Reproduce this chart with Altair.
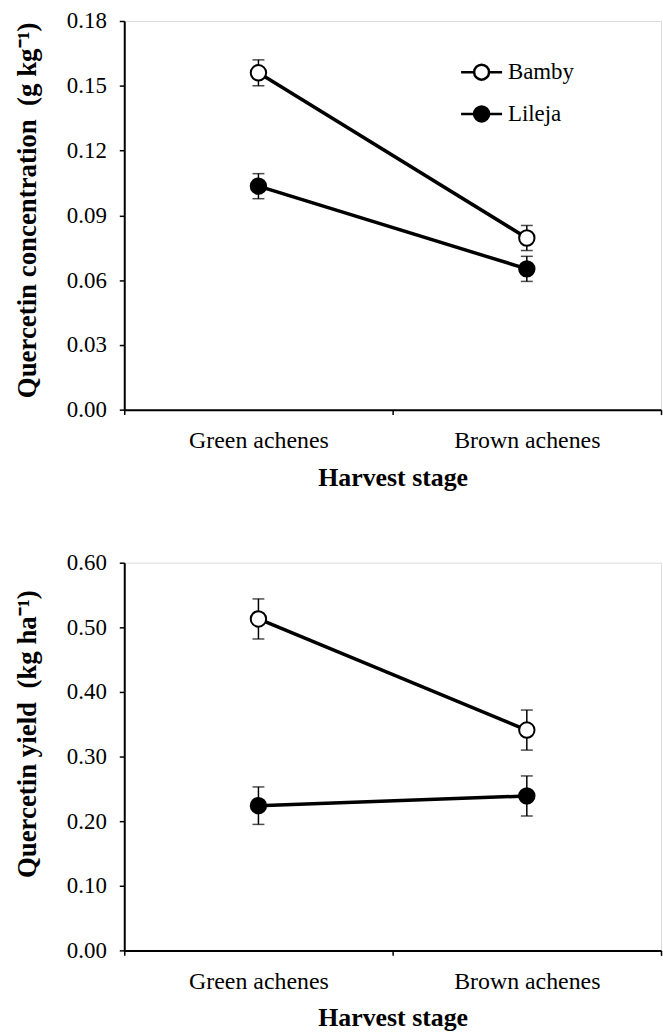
import altair as alt
import pandas as pd

# ---- data ----
stages = ["Green achenes", "Brown achenes"]
cultivars = ["Bamby", "Lileja"]

conc_bamby = [0.156, 0.0795]
conc_lileja = [0.1035, 0.0652]
conc_err_bamby = [0.006, 0.0058]
conc_err_lileja = [0.0058, 0.0058]

yield_bamby = [0.513, 0.341]
yield_lileja = [0.224, 0.239]
yield_err_bamby = [0.031, 0.031]
yield_err_lileja = [0.029, 0.031]

conc_ticks = [0.0, 0.03, 0.06, 0.09, 0.12, 0.15, 0.18]
yield_ticks = [0.0, 0.1, 0.2, 0.3, 0.4, 0.5, 0.6]

FONT = "Liberation Serif"
LEGEND_PATH = "M-2.75,0L-1,0M1,0L2.75,0M1,0A1,1,0,1,1,-1,0A1,1,0,1,1,1,0Z"


def make_df(b, l, eb, el):
    rows = []
    for cv, vals, errs in (("Bamby", b, eb), ("Lileja", l, el)):
        for st, v, e in zip(stages, vals, errs):
            rows.append({"stage": st, "cultivar": cv, "value": v,
                         "lo": v - e, "hi": v + e})
    return pd.DataFrame(rows)


def panel(df, ticks, ytitle, height, legend_y, title_y):
    x_enc = alt.X(
        "stage:N", sort=stages,
        scale=alt.Scale(paddingInner=0, paddingOuter=0),
        axis=alt.Axis(title="Harvest stage", labelAngle=0, tickBand="extent",
                      domainColor="black", domainWidth=2, tickColor="black",
                      tickWidth=1.5, tickSize=5, labelFont=FONT, labelFontSize=24,
                      labelColor="black", labelPadding=14, titleFont=FONT,
                      titleFontSize=26, titleFontWeight="bold", titleColor="black",
                      titlePadding=12, grid=False),
    )
    yscale = alt.Scale(domain=[ticks[0], ticks[-1]], nice=False)
    yaxis = alt.Axis(title=ytitle, values=ticks, format=".2f", grid=False,
                     domainColor="black", domainWidth=2, tickColor="black",
                     tickWidth=1.5, tickSize=5, labelFont=FONT, labelFontSize=23,
                     labelColor="black", labelPadding=13, titleFont=FONT,
                     titleFontSize=27, titleFontWeight="bold", titleColor="black",
                     titleX=-97, titleY=title_y, titleBaseline="middle",
                     titleAngle=270)
    y_val = alt.Y("value:Q", scale=yscale, axis=yaxis)

    base = alt.Chart(df)
    lines = base.mark_line(color="black", strokeWidth=3.5).encode(
        x=x_enc, y=y_val, detail="cultivar:N")
    stems = base.mark_rule(color="black", strokeWidth=1.5).encode(
        x=x_enc, y=alt.Y("lo:Q", scale=yscale, axis=yaxis), y2="hi:Q")
    caps_lo = base.mark_tick(color="black", size=12, thickness=1.5).encode(
        x=x_enc, y=alt.Y("lo:Q", scale=yscale, axis=yaxis))
    caps_hi = base.mark_tick(color="black", size=12, thickness=1.5).encode(
        x=x_enc, y=alt.Y("hi:Q", scale=yscale, axis=yaxis))
    points = base.mark_point(shape="circle", filled=True, stroke="black",
                             strokeWidth=2, size=240, opacity=1).encode(
        x=x_enc, y=y_val,
        fill=alt.Fill("cultivar:N",
                      scale=alt.Scale(domain=cultivars, range=["white", "black"]),
                      legend=alt.Legend(title=None, orient="none", legendX=348,
                                        legendY=legend_y, symbolType=LEGEND_PATH,
                                        symbolSize=225, symbolStrokeColor="black",
                                        symbolStrokeWidth=2.5, labelFont=FONT,
                                        labelFontSize=23, labelColor="black",
                                        labelOffset=15, rowPadding=17, padding=0)),
    )
    return alt.layer(lines, stems, caps_lo, caps_hi, points).properties(
        width=540, height=height)


conc_df = make_df(conc_bamby, conc_lileja, conc_err_bamby, conc_err_lileja)
yield_df = make_df(yield_bamby, yield_lileja, yield_err_bamby, yield_err_lileja)

top = panel(conc_df, conc_ticks, "Quercetin concentration \u00a0(g kg\u207b\u00b9)",
            391, 40, 190)
bottom = panel(yield_df, yield_ticks, "Quercetin yield \u00a0(kg ha\u207b\u00b9)",
               390, 39, 172)

chart = alt.vconcat(top, bottom, spacing=60).resolve_scale(
    y="independent", fill="shared"
).properties(
    padding={"left": 13, "top": 6, "right": 0, "bottom": 0}
).configure_view(strokeWidth=0).configure(font=FONT, background="white")

chart.save("out.html", embed_options={"renderer": "svg", "actions": False})
